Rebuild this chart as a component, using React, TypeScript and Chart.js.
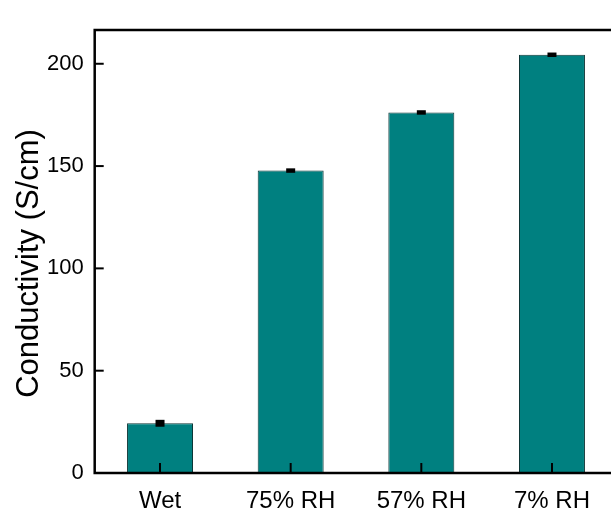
import React, { useEffect, useRef } from "react";
import { Chart, registerables } from "chart.js";

Chart.register(...registerables);

const categories = ["Wet", "75% RH", "57% RH", "7% RH"];
const conductivity = [24.3, 147.8, 176.2, 204.4];
const errors = [1.2, 0.6, 0.6, 0.6];
const yTicks = [0, 50, 100, 150, 200];
const Y_MIN = 0;
const Y_MAX = 216.5;
const yTitle = "Conductivity (S/cm)";

const FONT = "'Liberation Sans', Arial, sans-serif";

const framePlugin = {
  id: "frame",
  afterDatasetsDraw(chart: any) {
    const { ctx, chartArea: a, scales } = chart;
    const xs = scales.x;
    const ys = scales.y;
    ctx.save();
    const meta = chart.getDatasetMeta(0);
    meta.data.forEach((bar: any, i: number) => {
      const v = conductivity[i];
      const e = errors[i];
      const yt = ys.getPixelForValue(v + e);
      const yb = ys.getPixelForValue(v - e);
      ctx.fillStyle = "#000";
      ctx.fillRect(bar.x - 4.5, yt - 1, 9, yb - yt + 2);
    });
    ctx.strokeStyle = "#000";
    ctx.lineWidth = 2.5;
    ctx.strokeRect(a.left, a.top, a.right - a.left, a.bottom - a.top);
    ctx.lineWidth = 2;
    yTicks.forEach((t) => {
      const py = ys.getPixelForValue(t);
      ctx.beginPath();
      ctx.moveTo(a.left, py);
      ctx.lineTo(a.left + 9, py);
      ctx.stroke();
    });
    categories.forEach((_c, i) => {
      const px = xs.getPixelForValue(i);
      ctx.beginPath();
      ctx.moveTo(px, a.bottom);
      ctx.lineTo(px, a.bottom - 10);
      ctx.stroke();
    });
    // y-axis title
    ctx.fillStyle = "#000";
    ctx.font = `31px ${FONT}`;
    ctx.textAlign = "center";
    ctx.textBaseline = "middle";
    ctx.translate(29, (a.top + a.bottom) / 2 + 12);
    ctx.rotate(-Math.PI / 2);
    ctx.fillText(yTitle, 0, 0);
    ctx.restore();
  },
};

export default function App() {
  const ref = useRef<HTMLCanvasElement | null>(null);
  useEffect(() => {
    if (!ref.current) return;
    const chart = new Chart(ref.current, {
      type: "bar",
      data: {
        labels: categories,
        datasets: [
          {
            data: conductivity,
            backgroundColor: "#008080",
            borderColor: "#0d3535",
            borderWidth: 1,
            barPercentage: 0.505,
            categoryPercentage: 1,
          },
        ],
      },
      options: {
        animation: false,
        responsive: false,
        devicePixelRatio: 1,
        layout: { padding: { left: 0, right: 22.7, top: 30, bottom: 0 } },
        plugins: { legend: { display: false }, tooltip: { enabled: false } },
        scales: {
          x: {
            grid: { display: false, drawTicks: false },
            border: { display: false },
            ticks: {
              color: "#000",
              padding: 14,
              maxRotation: 0,
              autoSkip: false,
              font: { family: FONT, size: 24 },
            },
            afterFit: (s: any) => {
              s.height = 37;
            },
          },
          y: {
            min: Y_MIN,
            max: Y_MAX,
            grid: { display: false, drawTicks: false },
            border: { display: false },
            afterBuildTicks: (s: any) => {
              s.ticks = yTicks.map((v) => ({ value: v }));
            },
            ticks: {
              color: "#000",
              padding: 11,
              font: { family: FONT, size: 22 },
            },
            afterFit: (s: any) => {
              s.width = 94.7;
            },
          },
        },
      },
      plugins: [framePlugin],
    });
    return () => chart.destroy();
  }, []);

  return (
    <div
      style={{
        position: "fixed",
        left: 0,
        top: 0,
        width: 611,
        height: 510,
        overflow: "hidden",
        background: "#fff",
      }}
    >
      <canvas ref={ref} width={640} height={510} style={{ display: "block" }} />
    </div>
  );
}
